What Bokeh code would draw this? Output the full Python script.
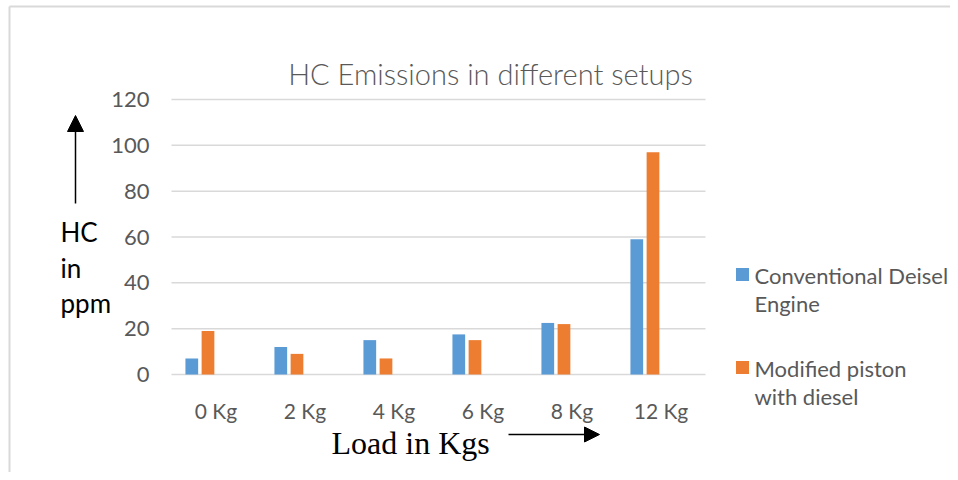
from bokeh.plotting import figure
from bokeh.models import ColumnDataSource, Range1d, Label, Arrow, NormalHead
from bokeh.core.properties import value
from bokeh.transform import dodge
from bokeh.embed import file_html
from bokeh.resources import INLINE

# ---- data ----
loads = ["0 Kg", "2 Kg", "4 Kg", "6 Kg", "8 Kg", "12 Kg"]
conventional = [7, 12, 15, 17.5, 22.5, 59]
modified = [19, 9, 7, 15, 22, 97]
y_ticks = [0, 20, 40, 60, 80, 100, 120]
y_tick_labels = ["0", "20", "40", "60", "80", "100", "120"]

series_names = [["Conventional Deisel", "Engine"], ["Modified piston", "with diesel"]]
series_colors = ["#5B9BD5", "#ED7D31"]
title_text = "HC Emissions in different setups"
x_title = "Load in Kgs"
y_title = ["HC", "in", "ppm"]

SANS = "Lato"
GREY = "#595959"
W, H = 950, 472
# plot-area placement (pixels) inside the canvas
PL, PR, PT, PB = 171, 705, 99, 374
YMAX = 120
ncat = len(loads)
ux = (PR - PL) / ncat           # px per category
uy = (PB - PT) / YMAX           # px per y unit

def dx(px):
    return (px - PL) / ux

def dy(py):
    return (PB - py) / uy

centers = [i + 0.5 for i in range(ncat)]
src = ColumnDataSource(dict(xc=centers, load=loads, conv=conventional, mod=modified))

p = figure(width=W, height=H, output_backend="svg", toolbar_location=None,
           x_axis_type=None, y_axis_type=None,
           x_range=Range1d(dx(0), dx(W)), y_range=Range1d(dy(H), dy(0)),
           min_border=0)
p.outline_line_color = None
p.background_fill_color = "white"
p.border_fill_color = "white"

# chart border (left + top)
p.segment(x0=[dx(9), dx(9)], y0=[dy(6), dy(6)], x1=[dx(9), dx(W + 10)], y1=[dy(H + 10), dy(6)],
          line_color="#d9d9d9", line_width=2)

# gridlines
p.segment(x0=[0] * len(y_ticks), x1=[ncat] * len(y_ticks), y0=y_ticks, y1=y_ticks,
          line_color="#d9d9d9", line_width=1.5)

# bars
r1 = p.vbar(x=dodge("xc", -0.272), top="conv", width=0.143,
            source=src, fill_color=series_colors[0], line_color=None)
r2 = p.vbar(x=dodge("xc", -0.09), top="mod", width=0.143,
            source=src, fill_color=series_colors[1], line_color=None)

# y tick labels
p.text(x=[dx(149)] * len(y_ticks), y=y_ticks, text=y_tick_labels,
       text_align="right", text_baseline="middle", text_font=value(SANS),
       text_font_size="22px", text_color=GREY)
# x tick labels
p.text(x="xc", y=dy(409.5), text="load", source=src,
       text_align="center", text_baseline="middle", text_font=value(SANS),
       text_font_size="21px", text_color=GREY)

def lab(px, py, text, font, size, color, align="left"):
    p.add_layout(Label(x=dx(px), y=dy(py), text=text,
                       text_align=align, text_baseline="middle", text_font=font,
                       text_font_size=size, text_color=color))

# title
lab(490, 72.5, title_text, "Lato Light, Lato", "29px", GREY, "center")

# x title + arrow
lab(331, 442.5, x_title, "Liberation Serif", "32px", "black")
p.add_layout(Arrow(x_start=dx(508), y_start=dy(434), x_end=dx(599), y_end=dy(434),
                   line_color="black", line_width=1.5,
                   end=NormalHead(size=15, fill_color="black", line_color="black")))

# y title + arrow
for txt, py in zip(y_title, [231.7, 267, 302.5]):
    lab(60, py, txt, SANS, "26px", "black")
p.add_layout(Arrow(x_start=dx(75), y_start=dy(203), x_end=dx(75), y_end=dy(115),
                   line_color="black", line_width=1.5,
                   end=NormalHead(size=16, fill_color="black", line_color="black")))

# legend (keys + wrapped labels)
key_rows = [274, 367]
p.scatter(x=[dx(742)] * 2, y=[dy(r) for r in key_rows], marker="square", size=13,
          fill_color=series_colors, line_color=None)
for lines, r in zip(series_names, key_rows):
    for k, line in enumerate(lines):
        lab(754, r + 1 + 28 * k, line, SANS, "22px", GREY)

open("out.html", "w").write(file_html(p, INLINE))
